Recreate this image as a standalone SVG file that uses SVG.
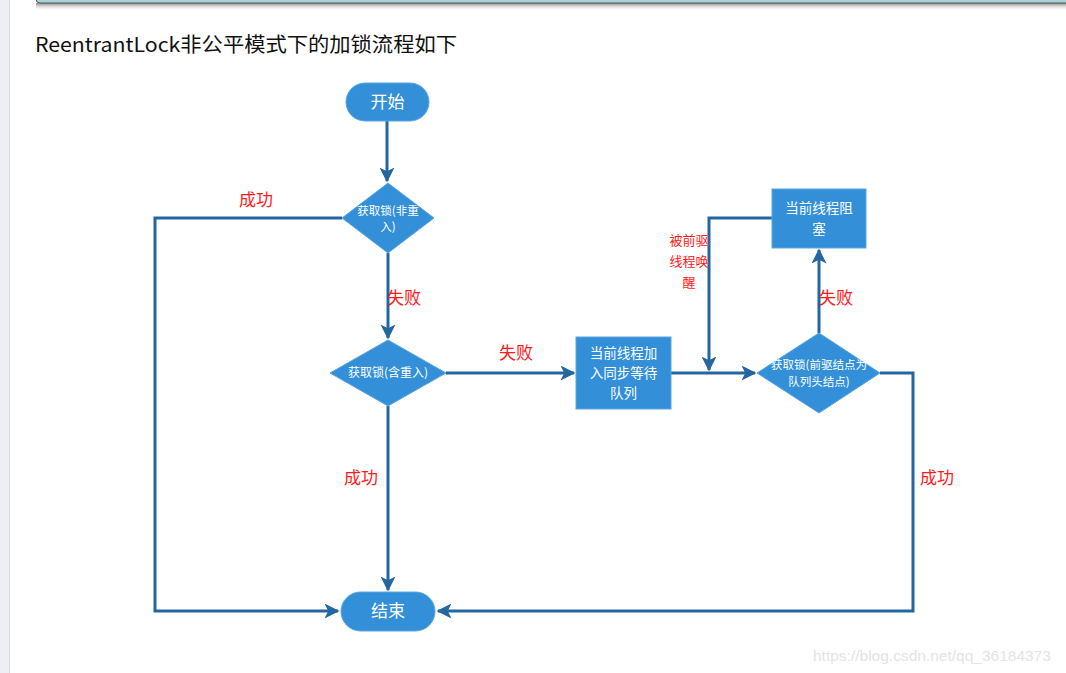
<svg xmlns="http://www.w3.org/2000/svg" width="1066" height="673" viewBox="0 0 1066 673">
<defs>
<marker id="ah" viewBox="0 0 10 10" refX="9" refY="5" markerWidth="5" markerHeight="5" markerUnits="strokeWidth" orient="auto">
<path d="M0,0 L10,5 L0,10 L2.5,5 z" fill="#2466a0"/>
</marker>
<linearGradient id="sh" x1="0" y1="0" x2="0" y2="1">
<stop offset="0" stop-color="#888"/>
<stop offset="1" stop-color="#fff" stop-opacity="0"/>
</linearGradient>
<style>
.n{fill:#3390d8;stroke:#5aa6e0;stroke-width:1}
.c{fill:none;stroke:#2466a0;stroke-width:3}
.a{marker-end:url(#ah)}
.t{fill:#fff;font-family:"Noto Sans CJK SC","Liberation Sans",sans-serif;text-anchor:middle}
.r{fill:#ff1a1a;font-family:"Noto Sans CJK SC","Liberation Sans",sans-serif;text-anchor:middle}
</style>
</defs>
<rect width="1066" height="673" fill="#fff"/>
<rect x="0" y="0" width="9" height="673" fill="#eeeef5"/>
<rect x="9" y="0" width="1" height="673" fill="#dcdce4"/>
<rect x="36" y="3" width="1030" height="8" fill="url(#sh)"/>
<rect x="36" y="-10" width="1040" height="13" rx="4" fill="#a9d3da" stroke="#555" stroke-width="1"/>
<text x="35" y="52" font-family="'Noto Sans CJK SC','Liberation Sans',sans-serif" font-size="20" fill="#111" textLength="422" lengthAdjust="spacingAndGlyphs">ReentrantLock非公平模式下的加锁流程如下</text>

<g id="connectors">
<path class="c a" d="M387,121 V181"/>
<path class="c a" d="M342,218 H155 V611 H338"/>
<path class="c a" d="M388,253 V338"/>
<path class="c a" d="M446,373 H574"/>
<path class="c a" d="M671,373 H755"/>
<path class="c a" d="M819,333 V250"/>
<path class="c a" d="M772,218 H709 V370"/>
<path class="c a" d="M880,373 H913 V611 H438"/>
<path class="c a" d="M388,406 V590"/>
</g>

<g id="labels">
<text class="r" x="256" y="206" font-size="17">成功</text>
<text class="r" x="404" y="304" font-size="17">失败</text>
<text class="r" x="516" y="359" font-size="17">失败</text>
<text class="r" x="836" y="304" font-size="17">失败</text>
<text class="r" x="361" y="484" font-size="17">成功</text>
<text class="r" x="937" y="484" font-size="17">成功</text>
<text class="r" x="689" y="245" font-size="13">被前驱</text>
<text class="r" x="689" y="266" font-size="13">线程唤</text>
<text class="r" x="689" y="287" font-size="13">醒</text>
</g>

<g id="start">
<rect class="n" x="346" y="83" width="83" height="38" rx="19"/>
<text class="t" x="387.5" y="108" font-size="17">开始</text>
</g>
<g id="d1">
<polygon class="n" points="388,183 434,218 388,253 342,218"/>
<text class="t" x="388" y="215" font-size="11.5">获取锁(非重</text>
<text class="t" x="388" y="231" font-size="11.5">入)</text>
</g>
<g id="d2">
<polygon class="n" points="388,340 446,373 388,406 330,373"/>
<text class="t" x="388" y="377" font-size="12">获取锁(含重入)</text>
</g>
<g id="b1">
<rect class="n" x="576" y="337" width="95" height="72"/>
<text class="t" x="623.5" y="358" font-size="13.5">当前线程加</text>
<text class="t" x="623.5" y="378" font-size="13.5">入同步等待</text>
<text class="t" x="623.5" y="398" font-size="13.5">队列</text>
</g>
<g id="d3">
<polygon class="n" points="819,333 880,373 819,413 757,373"/>
<text class="t" x="819" y="369" font-size="11.5">获取锁(前驱结点为</text>
<text class="t" x="819" y="386" font-size="11.5">队列头结点)</text>
</g>
<g id="b2">
<rect class="n" x="772" y="189" width="94" height="59"/>
<text class="t" x="819" y="213" font-size="13.5">当前线程阻</text>
<text class="t" x="819" y="234" font-size="13.5">塞</text>
</g>
<g id="end">
<rect class="n" x="341" y="592" width="94" height="39" rx="19.5"/>
<text class="t" x="388" y="617" font-size="17">结束</text>
</g>
<text x="813" y="661" font-family="'Liberation Sans',sans-serif" font-size="15.5" fill="#e4e4e4">https://blog.csdn.net/qq_36184373</text>
</svg>
